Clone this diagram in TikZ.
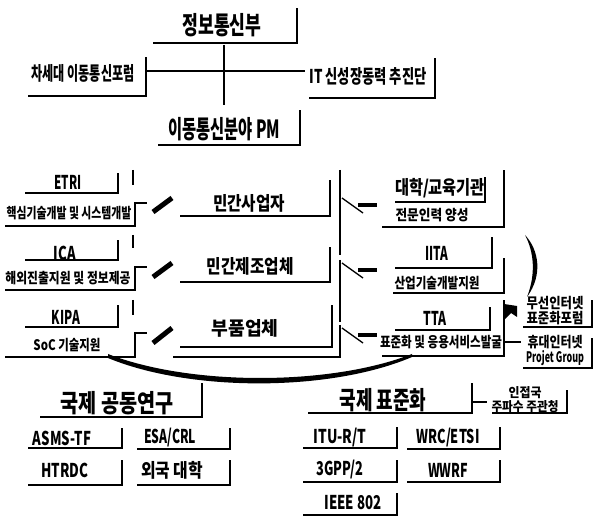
\documentclass[tikz,border=0pt]{standalone}
\usepackage{fontspec}
\usepackage{graphicx}
\newfontfamily\kr{Noto Sans CJK KR}
\newcommand\fw[2]{\resizebox{#1pt}{\height}{#2}}
\tikzset{
  lb/.style={line width=2.6pt, line join=miter},
  cn/.style={line width=1.3pt},
  sl/.style={line width=5pt},
  tb/.style={inner sep=0pt, font=\kr\bfseries\fontsize{25}{25}\selectfont},
  tm/.style={inner sep=0pt, font=\kr\bfseries\fontsize{19}{19}\selectfont},
  ts/.style={inner sep=0pt, font=\kr\bfseries\fontsize{14.5}{14.5}\selectfont},
  tx/.style={inner sep=0pt, font=\kr\bfseries\fontsize{13}{13}\selectfont},
}
\begin{document}
\begin{tikzpicture}[x=1pt,y=-1pt]
\useasboundingbox (0,0) rectangle (595,518);

% ---------- top ----------
\node[tb] (mic) at (222,25) {\fw{79}{정보통신부}};
\draw[lb] (153,43) -| (297,8);
\node[tm] (forum) at (83,73) {\fw{103}{차세대 이동통신포럼}};
\draw[lb] (28,96) -| (146,57);
\node[tm] (itgrow) at (368,76) {\fw{117}{IT 신성장동력 추진단}};
\draw[lb] (309,98) -| (435,58);
\node[tb] (pm) at (224,129) {\fw{112}{이동통신분야 PM}};
\draw[lb] (158,145) -| (300,110);
\coordinate (v1) at (224,45); \coordinate (v2) at (224,105);
\coordinate (h1) at (147,71); \coordinate (h2) at (305,71);
\draw[cn] (v1) -- (v2);
\draw[cn] (h1) -- (h2);

% ---------- left column ----------
\node[tm] (etri) at (68,182) {\fw{27}{ETRI}};
\draw[lb] (25,193) -| (118,173);
\node[ts] (etrid) at (69,213) {\fw{125}{핵심기술개발 및 시스템개발}};
\draw[lb] (5,226) -| (135,203) -- (147,203);
\node[tm] (ica) at (65,253) {\fw{22}{ICA}};
\draw[lb] (25,260) -| (118,240);
\node[ts] (icad) at (68,278) {\fw{125}{해외진출지원 및 정보제공}};
\draw[lb] (5,290) -| (135,267) -- (147,267);
\node[tm] (kipa) at (66,317) {\fw{28}{KIPA}};
\draw[lb] (25,327) -| (118,305);
\node[ts] (kipad) at (67,345) {\fw{67}{SoC 기술지원}};
\draw[lb] (5,357) -| (135,333) -- (147,333);
\draw[lb] (133,170) -- (133,185);
\draw[lb] (133,235) -- (133,248);
\draw[lb] (133,300) -- (133,315);
\draw[sl] (153,212) -- (172,198);
\draw[sl] (153,277) -- (172,263);
\draw[sl] (153,343) -- (172,328);

% ---------- middle column ----------
\node[tm] (biz) at (249,203) {\fw{72}{민간사업자}};
\draw[lb] (180,216) -| (330,180);
\node[tm] (mfg) at (250,266) {\fw{87}{민간제조업체}};
\draw[lb] (180,282) -| (330,247);
\node[tm] (parts) at (245,328) {\fw{67}{부품업체}};
\draw[lb] (180,347) -| (332,305);
\draw[lb] (173,357) -- (340,357);

% right trunk with switches
\draw[lb] (340,170) -- (340,255);
\draw[lb] (340,260) -- (340,322);
\draw[lb] (340,325) -- (340,358);
\foreach \y in {198,263,328}{
  \draw[cn] (342,\y) -- (363,\y+15);
  \draw[line width=4pt] (358,\y+7) -- (377,\y+7);
}

% ---------- right column ----------
\node[tm] (univ) at (440,188) {\fw{90}{대학/교육기관}};
\draw[lb] (395,202) -| (485,177);
\node[ts] (univd) at (432,215) {\fw{73}{전문인력 양성}};
\draw[lb] (382,227) -| (504,170);
\node[tm] (iita) at (437,253) {\fw{23}{IITA}};
\draw[lb] (395,268) -| (492,237);
\node[ts] (iitad) at (437,283) {\fw{85}{산업기술개발지원}};
\draw[lb] (393,293) -| (504,258);
\node[tm] (tta) at (435,318) {\fw{23}{TTA}};
\draw[lb] (395,330) -| (490,307);
\node[ts] (ttad) at (441,342) {\fw{122}{표준화 및 응용서비스발굴}};
\draw[lb] (382,356) -| (504,300);
\fill (504,304) -- (517,306) -- (517,317) -- (511,313) -- (504,320) -- cycle;
\coordinate (tta1) at (504,342); \coordinate (tta2) at (521,342);
\draw[cn] (tta1) -- (tta2);

\node[ts] (wi1) at (555,303) {\fw{57}{무선인터넷}};
\node[ts] (wi2) at (555,318) {\fw{57}{표준화포럼}};
\draw[lb] (523,327) -| (592,300);
\node[ts] (wb1) at (555,342) {\fw{55}{휴대인터넷}};
\node[ts] (wb2) at (555,358) {\fw{58}{Projet Group}};
\draw[lb] (523,368) -| (592,338);

% crescent
\fill (525,235) .. controls (539,250) and (543,275) .. (527,297)
      .. controls (536,274) and (534,252) .. cycle;

% big curve
\fill (108,354) .. controls (190,386) and (330,386) .. (412,354)
      -- (412,357) .. controls (330,392) and (190,392) .. (108,358) -- cycle;

% ---------- bottom left ----------
\node[tb] (coop) at (117,403) {\fw{113}{국제 공동연구}};
\draw[lb] (40,417) -| (202,383);
\node[tm] (asms) at (62,438) {\fw{58}{ASMS-TF}};
\draw[lb] (28,448) -| (122,428);
\node[tm] (esa) at (170,438) {\fw{52}{ESA/CRL}};
\draw[lb] (137,449) -| (230,428);
\node[tm] (htrdc) at (65,470) {\fw{47}{HTRDC}};
\draw[lb] (28,485) -| (122,460);
\node[tm] (funi) at (172,470) {\fw{62}{외국 대학}};
\draw[lb] (137,485) -| (230,460);

% ---------- bottom right ----------
\node[tb] (std) at (383,400) {\fw{87}{국제 표준화}};
\draw[lb] (308,413) -| (472,383);
\coordinate (s1) at (472,402); \coordinate (s2) at (487,402);
\draw[cn] (s1) -- (s2);
\node[tx] (nb1) at (525,393) {\fw{33}{인접국}};
\node[tx] (nb2) at (525,407) {\fw{67}{주파수 주관청}};
\draw[lb] (492,413) -| (567,390);
\node[tm] (itu) at (340,438) {\fw{53}{ITU-R/T}};
\draw[lb] (303,448) -| (397,427);
\node[tm] (wrc) at (448,438) {\fw{63}{WRC/ETSI}};
\draw[lb] (407,449) -| (500,427);
\node[tm] (gpp) at (340,470) {\fw{47}{3GPP/2}};
\draw[lb] (303,482) -| (397,460);
\node[tm] (wwrf) at (448,470) {\fw{40}{WWRF}};
\draw[lb] (407,482) -| (500,460);
\node[tm] (ieee) at (353,503) {\fw{57}{IEEE 802}};
\draw[lb] (303,515) -| (397,493);
\end{tikzpicture}
\end{document}
